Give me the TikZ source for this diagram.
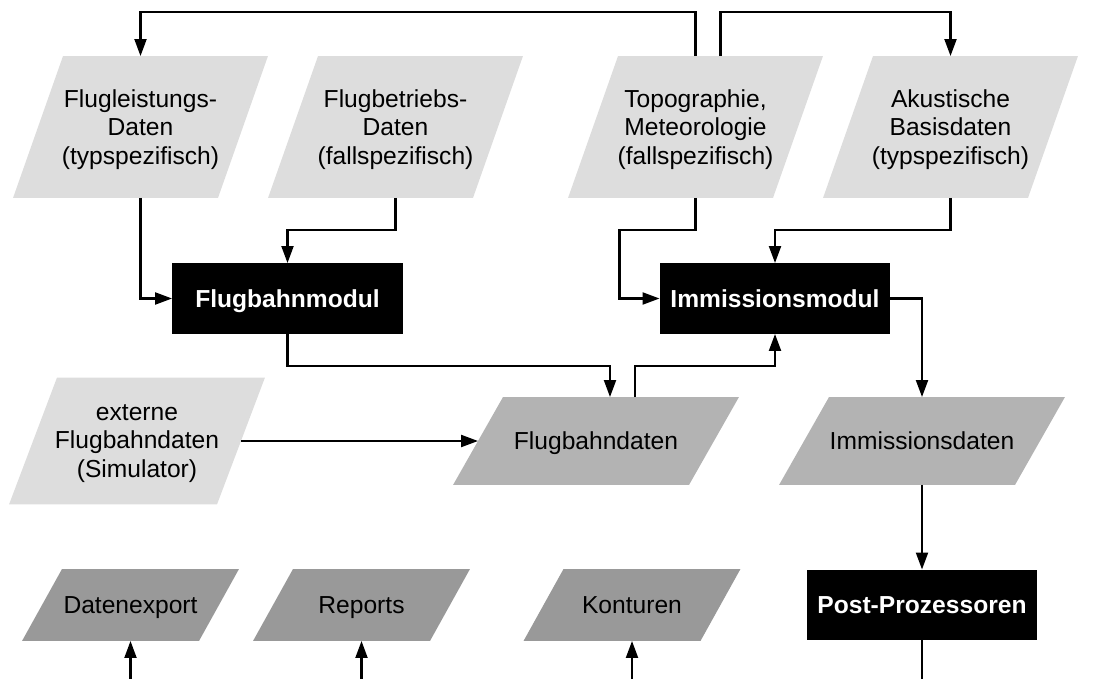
\documentclass[tikz,border=0pt]{standalone}
\usepackage{fontspec}
\setmainfont{Liberation Sans}
\usetikzlibrary{arrows.meta,backgrounds}
\definecolor{lightdata}{HTML}{DDDDDD}
\definecolor{middata}{HTML}{B3B3B3}
\definecolor{darkdata}{HTML}{999999}
\begin{document}
\begin{tikzpicture}[x=0.02cm, y=-0.02cm,
  font=\fontsize{14}{16}\selectfont,
  >={Triangle[length=3.4mm,width=2.4mm]},
  conn/.style={line width=1.2pt},
  indata/.style={rectangle, minimum width=4.1cm, minimum height=2.84cm,
    inner sep=0pt, outer sep=0pt, align=center, text depth=0pt},
  extdata/.style={indata, minimum width=4.16cm, minimum height=2.54cm},
  flowdata/.style={indata, minimum width=4.72cm, minimum height=1.76cm},
  outdata/.style={indata, minimum width=3.54cm, minimum height=1.44cm},
  module/.style={rectangle, fill=black, text=white,
    font=\fontsize{14}{16}\selectfont\bfseries, text depth=0pt,
    minimum width=4.62cm, minimum height=1.42cm, inner sep=0pt, outer sep=0pt}]
\useasboundingbox (0,0) rectangle (1096,679);
% eingangsdaten
\node[indata] (flugl) at (140.5,127) {Flugleistungs-\\Daten\\(typspezifisch)};
\node[indata] (flugb) at (395.5,127) {Flugbetriebs-\\Daten\\(fallspezifisch)};
\node[indata] (topo) at (695.5,127) {Topographie,\\Meteorologie\\(fallspezifisch)};
\node[indata] (akust) at (950.5,127) {Akustische\\Basisdaten\\(typspezifisch)};
% module
\node[module] (fbm) at (287.5,298.5) {Flugbahnmodul};
\node[module] (imm) at (775,298.5) {Immissionsmodul};
\node[extdata] (ext) at (137,441) {externe\\Flugbahndaten\\(Simulator)};
\node[flowdata] (fbd) at (596,441) {Flugbahndaten};
\node[flowdata] (immd) at (922,441) {Immissionsdaten};
% ausgabe
\node[outdata] (exp) at (130.5,605) {Datenexport};
\node[outdata] (rep) at (361.5,605) {Reports};
\node[outdata] (kont) at (632,605) {Konturen};
\node[module] (post) at (922,605) {Post-Prozessoren};
% parallelogramme
\begin{scope}[on background layer]
\foreach \n/\h/\c in {flugl/5mm/lightdata, flugb/5mm/lightdata, topo/5mm/lightdata,
    akust/5mm/lightdata, ext/4.8mm/lightdata, fbd/5mm/middata, immd/5mm/middata,
    exp/4mm/darkdata, rep/4mm/darkdata, kont/4mm/darkdata}
  \fill[\c] ([xshift=-\h]\n.south west) -- ([xshift=\h]\n.north west)
    -- ([xshift=\h]\n.north east) -- ([xshift=-\h]\n.south east) -- cycle;
\end{scope}
\coordinate (topline) at (0,12);
\coordinate (expin) at (130.5,679);
\coordinate (repin) at (361.5,679);
\coordinate (kontin) at (632,679);
\coordinate (postout) at (922,679);
\path ([xshift=5mm]topo.north) coordinate (topo2);
\path ([xshift=2.8mm]fbd.north) coordinate (fbdin);
\path ([xshift=7.8mm]fbd.north) coordinate (fbdout);
\draw[conn,->] (topo.north) -- (topo.north |- topline) -| (flugl.north);
\draw[conn,->] (topo2) -- (topo2 |- topline) -| (akust.north);
\draw[conn,->] (flugl.south) |- (fbm.west);
\draw[conn,->] (flugb.south) -- ++(0,32) -| (fbm.north);
\draw[conn,->] (topo.south) -- ++(0,32) -- ++(-76,0) |- (imm.west);
\draw[conn,->] (akust.south) -- ++(0,32) -| (imm.north);
\draw[conn,->] (fbm.south) -- ++(0,32) -| (fbdin);
\draw[conn,->] (fbdout) -- ++(0,-31) -| (imm.south);
\draw[conn,->] (imm.east) -| (immd.north);
\draw[conn,->] (ext.east) -- (fbd.west);
\draw[conn,->] (immd.south) -- (post.north);
\draw[conn] (post.south) -- (postout);
\draw[conn,->] (expin) -- (exp.south);
\draw[conn,->] (repin) -- (rep.south);
\draw[conn,->] (kontin) -- (kont.south);
\end{tikzpicture}
\end{document}
